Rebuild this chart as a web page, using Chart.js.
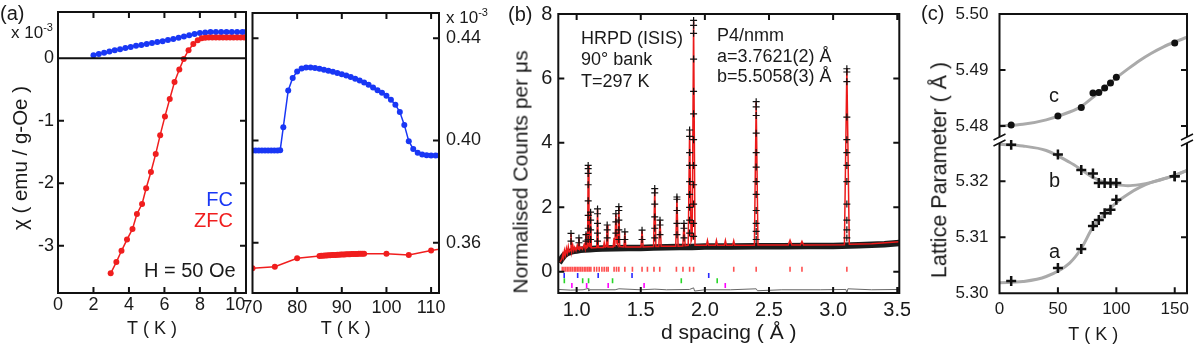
<!DOCTYPE html>
<html>
<head>
<meta charset="utf-8">
<script src="https://cdn.jsdelivr.net/npm/chart.js@4.4.1/dist/chart.umd.min.js"></script>
<style>
  body { margin: 0; background: #fff; }
  #page { position: relative; width: 1196px; height: 349px; overflow: hidden;
          font-family: 'Liberation Sans', Arial, sans-serif; color: #1a1a1a; }
  .box { position: absolute; }
  .txt { position: absolute; white-space: nowrap; line-height: 1; }
  .vt  { position: absolute; white-space: nowrap; line-height: 1;
         transform: translate(-50%, -50%) rotate(-90deg); }
  sup.e { font-size: 11px; position: relative; top: -7px; vertical-align: baseline; }
</style>
</head>
<body>
<div id="page">
  <div class="box" style="left:0;top:0"><canvas id="a1" width="250" height="349"></canvas></div>
  <div class="box" style="left:240px;top:0"><canvas id="a2" width="270" height="349"></canvas></div>
  <div class="box" style="left:500px;top:0"><canvas id="b" width="410" height="349"></canvas></div>
  <div class="box" style="left:910px;top:0"><canvas id="cTop" width="286" height="160"></canvas></div>
  <div class="box" style="left:910px;top:120px"><canvas id="cBot" width="286" height="229"></canvas></div>

  <!-- panel (a) -->
  <div class="txt" style="left:0;top:3px;font-size:20px">(a)</div>
  <div class="txt" style="left:11px;top:24px;font-size:17px">x 10<sup class="e">-3</sup></div>
  <div class="txt" style="left:446px;top:9px;font-size:17px">x 10<sup class="e">-3</sup></div>
  <div class="vt" style="left:20px;top:158px;font-size:20.5px">χ ( emu / g-Oe )</div>
  <div class="txt" style="right:963px;top:189px;font-size:20px;color:rgb(25,55,245)">FC</div>
  <div class="txt" style="right:963px;top:210px;font-size:20px;color:rgb(240,30,30)">ZFC</div>
  <div class="txt" style="left:144px;top:260px;font-size:20px">H = 50 Oe</div>

  <!-- panel (b) -->
  <div class="txt" style="left:508px;top:4px;font-size:20px">(b)</div>
  <div class="vt" style="left:520px;top:172px;font-size:21px">Normalised Counts per μs</div>
  <div class="txt" style="left:581px;top:29px;font-size:18px">HRPD (ISIS)</div>
  <div class="txt" style="left:581px;top:50px;font-size:18px">90° bank</div>
  <div class="txt" style="left:581px;top:71.5px;font-size:18px">T=297 K</div>
  <div class="txt" style="left:717px;top:25.5px;font-size:18px">P4/nmm</div>
  <div class="txt" style="left:717px;top:46.5px;font-size:18px">a=3.7621(2) Å</div>
  <div class="txt" style="left:717px;top:67px;font-size:18px">b=5.5058(3) Å</div>

  <!-- panel (c) -->
  <div class="txt" style="left:921px;top:3px;font-size:20px">(c)</div>
  <div class="vt" style="left:940px;top:170px;font-size:21.5px">Lattice Parameter ( Å )</div>
  <div class="txt" style="left:1049px;top:85px;font-size:20px">c</div>
  <div class="txt" style="left:1049px;top:170px;font-size:20px">b</div>
  <div class="txt" style="left:1049px;top:241px;font-size:20px">a</div>
</div>

<script>
// ---- (a) susceptibility, 0-10.6 K ----
const fcT1 = [2.0, 2.3, 2.6, 2.9, 3.2, 3.5, 3.8, 4.1, 4.4, 4.7, 5.0, 5.3, 5.6, 5.9, 6.2,
              6.5, 6.8, 7.1, 7.4, 7.7, 8.0, 8.3, 8.6, 8.9, 9.2, 9.5, 9.8, 10.1, 10.4, 10.6];
const fcChi1 = [0.05, 0.07, 0.09, 0.11, 0.13, 0.145, 0.165, 0.18, 0.20, 0.215, 0.23, 0.245, 0.26, 0.275, 0.295,
                0.31, 0.33, 0.35, 0.37, 0.39, 0.405, 0.415, 0.42, 0.42, 0.42, 0.42, 0.42, 0.42, 0.42, 0.42];
const zfcT1 = [2.97, 3.29, 3.58, 3.89, 4.20, 4.45, 4.74, 4.97, 5.24, 5.51, 5.76, 6.03, 6.30, 6.57, 6.84, 7.09,
               7.36, 7.63, 7.88, 8.1, 8.3, 8.5, 8.7, 8.9, 9.1, 9.3, 9.5, 9.7, 9.9, 10.1, 10.3, 10.5];
const zfcChi1 = [-3.44, -3.26, -3.08, -2.90, -2.73, -2.49, -2.33, -2.08, -1.82, -1.53, -1.23, -0.93, -0.65, -0.38, -0.18, -0.01,
                 0.13, 0.23, 0.29, 0.32, 0.33, 0.335, 0.335, 0.335, 0.335, 0.335, 0.335, 0.335, 0.335, 0.335, 0.335, 0.335];
const a1XTicks = [0, 2, 4, 6, 8, 10];
const a1YTicks = [-3, -2, -1, 0];

// ---- (a) susceptibility, 70-112 K ----
const fcT2 = [70, 70.7, 71.4, 72.1, 72.8, 73.5, 74.2, 74.9, 75.6, 76.2, 76.9, 78, 79, 80, 81, 82, 83, 84, 85, 86,
              87, 88, 89, 90, 91, 92, 93, 94, 95, 96, 97, 98, 99, 100, 101, 102, 103, 104, 105, 106,
              107, 108, 109, 110, 111, 111.8];
const fcChi2 = [0.3961, 0.3961, 0.3961, 0.3961, 0.3961, 0.3961, 0.3961, 0.3961, 0.3961, 0.3962, 0.4052, 0.4196, 0.4245, 0.4270, 0.4282, 0.4286, 0.4286, 0.4284, 0.4281, 0.4277,
                0.4273, 0.4269, 0.4264, 0.4259, 0.4254, 0.4248, 0.4242, 0.4235, 0.4227, 0.4218, 0.4207, 0.4197, 0.4187, 0.4175, 0.4159, 0.4140, 0.4111, 0.4061, 0.3997, 0.3967,
                0.3952, 0.3945, 0.3942, 0.3941, 0.3941, 0.3941];
const zfcT2 = [70, 75, 80, 85, 85.4, 85.8, 86.2, 86.6, 87.0, 87.4, 87.8, 88.2, 88.6, 89.0, 89.4, 89.8, 90.2, 90.6,
               91.0, 91.4, 91.8, 92.2, 92.6, 93.0, 93.4, 93.8, 94.2, 94.6, 95.0, 100, 105, 110, 115];
const zfcChi2 = [0.3500, 0.3506, 0.3539, 0.3548, 0.3549, 0.3549, 0.3550, 0.3550, 0.3551, 0.3551, 0.3552, 0.3552, 0.3552, 0.3553, 0.3553, 0.3554, 0.3554, 0.3554,
                 0.3555, 0.3555, 0.3555, 0.3556, 0.3556, 0.3556, 0.3556, 0.3557, 0.3557, 0.3557, 0.3557, 0.3557, 0.3552, 0.3569, 0.3585];
const a2XTicks = [70, 80, 90, 100, 110];
const a2YTicks = [0.36, 0.40, 0.44];

// ---- (b) HRPD pattern ----
const calcD = [0.870, 0.885, 0.893, 0.898, 0.905, 0.912, 0.920, 0.927, 0.935, 0.942,
               0.950, 0.956, 0.962, 0.970, 0.978, 0.985, 0.995, 1.005, 1.012, 1.018,
               1.024, 1.035, 1.045, 1.058, 1.066, 1.073, 1.079, 1.085, 1.090, 1.096,
               1.103, 1.109, 1.115, 1.157, 1.163, 1.169, 1.208, 1.215, 1.222, 1.232,
               1.238, 1.244, 1.285, 1.292, 1.298, 1.306, 1.314, 1.322, 1.329, 1.336,
               1.369, 1.376, 1.383, 1.502, 1.510, 1.518, 1.600, 1.609, 1.618, 1.641,
               1.650, 1.659, 1.773, 1.782, 1.791, 1.828, 1.837, 1.846, 1.870, 1.881,
               1.893, 1.901, 1.912, 1.923, 2.012, 2.020, 2.028, 2.082, 2.090, 2.098,
               2.152, 2.160, 2.168, 2.217, 2.225, 2.233, 2.386, 2.400, 2.414, 2.650,
               2.664, 2.678, 2.745, 2.757, 2.769, 3.088, 3.107, 3.126, 3.300, 3.516];
const calcY = [0.30, 0.40, 0.55, 0.45, 0.66, 0.52, 0.72, 0.58, 0.78, 0.62,
               0.66, 1.19, 0.64, 0.82, 0.66, 0.76, 0.66, 0.82, 0.70, 1.05,
               0.70, 0.76, 0.70, 0.84, 0.72, 1.20, 0.74, 0.76, 3.30, 0.80,
               0.78, 1.85, 0.74, 0.75, 1.95, 0.75, 0.75, 0.90, 0.76, 0.78,
               1.45, 0.77, 0.77, 1.05, 0.78, 1.80, 0.88, 0.82, 2.02, 0.78,
               0.77, 1.24, 0.77, 0.77, 1.29, 0.77, 0.78, 2.58, 0.78, 0.78,
               1.60, 0.79, 0.79, 2.32, 0.79, 0.80, 1.50, 0.81, 0.82, 4.40,
               0.95, 1.05, 7.80, 0.82, 0.82, 0.97, 0.82, 0.82, 0.97, 0.82,
               0.82, 0.97, 0.82, 0.82, 0.96, 0.82, 0.82, 5.28, 0.83, 0.83,
               0.98, 0.83, 0.83, 0.94, 0.83, 0.84, 6.32, 0.85, 0.87, 0.93];
// observed background band (dense crosses)
const bandD = [0.862, 0.875, 0.890, 0.905, 0.920, 0.940, 0.960, 0.980, 1.000, 1.030,
               1.060, 1.100, 1.150, 1.200, 1.300, 1.400, 1.500, 1.600, 1.700, 1.800,
               1.900, 2.000, 2.200, 2.400, 2.600, 2.800, 3.000, 3.200, 3.400, 3.516];
const bandY = [0.28, 0.36, 0.44, 0.52, 0.56, 0.60, 0.63, 0.65, 0.66, 0.68,
               0.69, 0.70, 0.71, 0.72, 0.73, 0.74, 0.74, 0.75, 0.76, 0.77,
               0.77, 0.78, 0.78, 0.79, 0.79, 0.80, 0.80, 0.82, 0.85, 0.89];
// observed points on the Bragg peaks
const peakD = [0.956, 1.018, 1.073, 1.090, 1.109, 1.163, 1.238, 1.306, 1.329, 1.376,
               1.510, 1.609, 1.650, 1.782, 1.837, 1.881, 1.912, 2.400, 3.107];
const peakObs = [
  [1.19, 0.95], [1.05, 0.9], [1.15, 0.95],
  [3.3, 3.2, 3.05, 2.7, 2.2, 1.75, 1.35, 1.0],
  [1.85, 1.6, 1.3, 1.0], [1.95, 1.8, 1.5, 1.2, 0.95], [1.45, 1.3, 1.05],
  [1.8, 1.55, 1.2], [2.02, 1.9, 1.6, 1.3, 1.0], [1.24, 1.0], [1.29, 1.0],
  [2.58, 2.45, 2.1, 1.7, 1.35, 1.05], [1.6, 1.45, 1.15], [2.32, 2.25, 1.9, 1.5, 1.15],
  [1.5, 1.35, 1.05], [4.4, 4.2, 3.7, 3.3, 2.8, 2.4, 2.0, 1.6, 1.2],
  [7.8, 7.65, 7.4, 6.6, 5.6, 4.9, 4.1, 3.3, 2.7, 2.1, 1.5, 1.1],
  [5.28, 5.12, 4.85, 4.3, 3.7, 3.25, 2.8, 2.4, 1.9, 1.5, 1.25, 1.0],
  [6.3, 6.2, 5.9, 4.8, 4.1, 3.7, 3.3, 2.8, 2.1, 1.6, 1.3, 1.05]
];
const diffD = [0.86, 0.95, 1.05, 1.09, 1.095, 1.10, 1.30, 1.33, 1.50, 1.61, 1.70, 1.88, 1.912,
               1.92, 2.00, 2.20, 2.40, 2.41, 2.60, 2.90, 3.10, 3.107, 3.115, 3.30, 3.516];
const diffY = [-0.55, -0.57, -0.56, -0.52, -0.60, -0.56, -0.56, -0.53, -0.56, -0.54, -0.56, -0.55, -0.50,
               -0.60, -0.56, -0.56, -0.53, -0.59, -0.56, -0.56, -0.55, -0.66, -0.53, -0.56, -0.55];
// reflection markers, one row per phase
const hklRed = [0.888, 0.901, 0.914, 0.927, 0.940, 0.953, 0.966, 0.981, 0.992, 1.005, 1.018, 1.031, 1.044,
                1.059, 1.072, 1.086, 1.098, 1.111, 1.137, 1.156, 1.176, 1.197, 1.215, 1.233, 1.246, 1.292,
                1.311, 1.329, 1.376, 1.435, 1.510, 1.552, 1.603, 1.648, 1.778, 1.829, 1.881, 1.912, 2.225,
                2.400, 2.664, 2.757, 3.107];
const hklBlue = [0.903, 1.008, 1.168, 1.432, 2.030];
const hklGreen = [0.904, 1.047, 1.093, 1.280, 1.816, 2.096];
const hklMag = [0.963, 1.078, 1.246, 1.526, 2.159];
const bXTicks = [1.0, 1.5, 2.0, 2.5, 3.0, 3.5];
const bYTicks = [0, 2, 4, 6, 8];

// ---- (c) lattice parameters ----
const latT = [10, 50, 70, 80, 85, 90, 95, 100, 150];
const latC = [5.4802, 5.4818, 5.4833, 5.4859, 5.4860, 5.4868, 5.4877, 5.4887, 5.4948];
const latB = [5.3265, 5.3248, 5.3220, 5.3214, 5.3197, 5.3197, 5.3197, 5.3197, 5.3209];
const latA = [5.3022, 5.3045, 5.3079, 5.3120, 5.3131, 5.3143, 5.3149, 5.3167, 5.3209];
const fitT = [0, 20, 40, 60, 70, 80, 90, 100, 110, 120, 130, 140, 150, 160];
const fitC = [5.4800, 5.4803, 5.4811, 5.4825, 5.4835, 5.4851, 5.4868, 5.4886, 5.4902, 5.4917, 5.4930, 5.4941, 5.4950, 5.4958];
const fitB = [5.3266, 5.3263, 5.3255, 5.3234, 5.3221, 5.3207, 5.3198, 5.3194, 5.3192, 5.3194, 5.3198, 5.3204, 5.3211, 5.3219];
const fitA = [5.3019, 5.3021, 5.3030, 5.3054, 5.3080, 5.3118, 5.3141, 5.3162, 5.3177, 5.3189, 5.3198, 5.3204, 5.3210, 5.3219];
const cXTicks = [0, 50, 100, 150];
const cTopTicks = [5.48, 5.49, 5.50];
const cBotTicks = [5.30, 5.31, 5.32];

const BLUE = 'rgb(25,55,245)', RED = 'rgb(240,30,30)', INK = '#111';

Chart.defaults.font.family = "'Liberation Sans', Arial, sans-serif";
Chart.defaults.color = '#1a1a1a';
Chart.defaults.animation = false;
Chart.defaults.plugins.legend.display = false;
Chart.defaults.plugins.tooltip.enabled = false;

const pts = (xs, ys) => xs.map((x, i) => ({x: x, y: ys[i]}));
const row = (xs, y) => xs.map(x => ({x: x, y: y}));

// box, inward ticks, zero line and axis break, drawn over the data
const framePlugin = {
  id: 'frame',
  afterDatasetsDraw(chart, args, o) {
    const {ctx, chartArea: a} = chart;
    const xs = chart.scales.x, ys = chart.scales.y;
    const L = 6;
    ctx.save();
    ctx.strokeStyle = INK;
    ctx.lineWidth = 2;
    ctx.beginPath();
    if (o.top) { ctx.moveTo(a.left - 1, a.top); ctx.lineTo(a.right + 1, a.top); }
    if (o.bottom) { ctx.moveTo(a.left - 1, a.bottom); ctx.lineTo(a.right + 1, a.bottom); }
    const t0 = a.top + (o.gapTop || 0), b0 = a.bottom - (o.gapBottom || 0);
    ctx.moveTo(a.left, t0); ctx.lineTo(a.left, b0);
    ctx.moveTo(a.right, t0); ctx.lineTo(a.right, b0);
    xs.ticks.forEach(t => {
      const px = xs.getPixelForValue(t.value);
      if (px < a.left + 1 || px > a.right - 1) return;
      if (o.bottom) { ctx.moveTo(px, a.bottom); ctx.lineTo(px, a.bottom - L); }
      if (o.topTicks) { ctx.moveTo(px, a.top); ctx.lineTo(px, a.top + L); }
    });
    ys.ticks.forEach(t => {
      const py = ys.getPixelForValue(t.value);
      if (py < a.top + 1 || py > a.bottom - 1) return;
      ctx.moveTo(a.left, py); ctx.lineTo(a.left + L, py);
      ctx.moveTo(a.right, py); ctx.lineTo(a.right - L, py);
    });
    if (o.zero) {
      const py = ys.getPixelForValue(0);
      ctx.moveTo(a.left, py); ctx.lineTo(a.right, py);
    }
    ctx.stroke();
    if (o.brk) {
      ctx.lineWidth = 1.5;
      ctx.beginPath();
      [a.left, a.right].forEach(bx => {
        [-3, 3].forEach(dy => {
          ctx.moveTo(bx - 6, a.top + dy + 3);
          ctx.lineTo(bx + 6, a.top + dy - 3);
        });
      });
      ctx.stroke();
    }
    ctx.restore();
  }
};

function axis(o) {
  return {
    type: 'linear',
    position: o.pos,
    display: o.display !== false,
    min: o.min,
    max: o.max,
    grid: {display: false, drawTicks: false},
    border: {display: false},
    ticks: {padding: o.pad, font: {size: o.size}, callback: v => Number(v).toFixed(o.dec)},
    afterBuildTicks: s => { s.ticks = o.ticks.map(v => ({value: v})); },
    afterFit: s => {
      if (o.horiz) s.height = o.fit; else s.width = o.fit;
      s.paddingLeft = s.paddingRight = s.paddingTop = s.paddingBottom = 0;
    },
    title: o.title
      ? {display: true, text: o.title, font: {size: o.titleSize}, padding: {top: 0, bottom: o.titlePad}}
      : {display: false}
  };
}

function makeChart(id, datasets, scales, frame, padding) {
  return new Chart(document.getElementById(id), {
    type: 'scatter',
    data: {datasets: datasets},
    options: {
      responsive: false,
      devicePixelRatio: 1,
      layout: {padding: padding},
      scales: scales,
      plugins: {frame: frame}
    },
    plugins: [framePlugin]
  });
}

function dots(data, color) {
  return {data: data, showLine: true, borderColor: color, borderWidth: 1.5,
          pointRadius: 3, pointBackgroundColor: color, pointBorderWidth: 0};
}

// (a) left
makeChart('a1',
  [dots(pts(zfcT1, zfcChi1), RED), dots(pts(fcT1, fcChi1), BLUE)],
  {
    x: axis({min: 0, max: 10.6, ticks: a1XTicks, dec: 0, size: 18, pad: 1, horiz: true, fit: 56,
             title: 'T ( K )', titleSize: 18, titlePad: 9, pos: 'bottom'}),
    y: axis({min: -3.755, max: 0.741, ticks: a1YTicks, dec: 0, size: 18, pad: 4, fit: 58, pos: 'left'})
  },
  {top: true, bottom: true, topTicks: true, zero: true},
  {left: 0, top: 12, right: 4, bottom: 0});

// (a) right
makeChart('a2',
  [dots(pts(zfcT2, zfcChi2), RED), dots(pts(fcT2, fcChi2), BLUE)],
  {
    x: axis({min: 70, max: 111.77, ticks: a2XTicks, dec: 0, size: 18, pad: 4, horiz: true, fit: 56,
             title: 'T ( K )', titleSize: 18, titlePad: 9, pos: 'bottom'}),
    y: axis({min: 0.3403, max: 0.4499, ticks: a2YTicks, dec: 2, size: 18, pad: 7, fit: 71, pos: 'right'})
  },
  {top: true, bottom: true, topTicks: true},
  {left: 12.5, top: 13, right: 0, bottom: 0});

// (b)
const obsPts = [];
peakD.forEach((d, i) => peakObs[i].forEach(y => obsPts.push({x: d, y: y})));
const hklSet = (xs, y, color) => ({
  data: row(xs, y), showLine: false, pointStyle: 'line', pointRotation: 90, pointRadius: 2.5,
  pointBorderWidth: 1.6, pointBorderColor: color, order: 4
});
makeChart('b',
  [
    {data: obsPts, showLine: false, pointStyle: 'cross', pointRadius: 3.5, pointBorderWidth: 1.2,
     pointBorderColor: INK, order: 1},
    {data: pts(calcD, calcY), showLine: true, borderColor: 'rgb(235,25,25)', borderWidth: 1.5,
     pointRadius: 0, order: 2},
    {data: pts(bandD, bandY), showLine: true, borderColor: '#1c1c1c', borderWidth: 6.5, pointRadius: 0, order: 3},
    hklSet(hklRed, 0.08, 'rgb(255,80,80)'),
    hklSet(hklBlue, -0.12, 'rgb(40,40,255)'),
    hklSet(hklGreen, -0.28, 'rgb(40,215,40)'),
    hklSet(hklMag, -0.43, 'rgb(255,0,255)'),
    {data: pts(diffD, diffY), showLine: true, borderColor: '#666', borderWidth: 1, pointRadius: 0, order: 5}
  ],
  {
    x: axis({min: 0.857, max: 3.516, ticks: bXTicks, dec: 1, size: 20, pad: 5, horiz: true, fit: 56,
             title: 'd spacing ( Å )', titleSize: 21, titlePad: 3, pos: 'bottom'}),
    y: axis({min: -0.66, max: 8, ticks: bYTicks, dec: 0, size: 20, pad: 6, fit: 58.3, pos: 'left'})
  },
  {top: true, bottom: true, topTicks: true},
  {left: 0, top: 14, right: 10.7, bottom: 0});

// (c) upper: c axis
const curve = data => ({data: data, showLine: true, borderColor: '#aaa', borderWidth: 3,
                        pointRadius: 0, cubicInterpolationMode: 'monotone', order: 3});
makeChart('cTop',
  [
    curve(pts(fitT, fitC)),
    {data: pts(latT, latC), showLine: false, pointStyle: 'circle', pointRadius: 3.5,
     pointBackgroundColor: INK, pointBorderWidth: 0, order: 1}
  ],
  {
    x: axis({min: 0, max: 160.5, ticks: cXTicks, dec: 0, size: 17, pad: 5, horiz: true, fit: 0,
             display: false, pos: 'bottom'}),
    y: axis({min: 5.4775, max: 5.50, ticks: cTopTicks, dec: 2, size: 17, pad: 11, fit: 89.5, pos: 'left'})
  },
  {top: true, bottom: false, gapBottom: 3},
  {left: 0, top: 14, right: 9, bottom: 20});

// (c) lower: a and b axes
const crosses = data => ({data: data, showLine: false, pointStyle: 'cross', pointRadius: 5,
                          pointBorderWidth: 2.5, pointBorderColor: INK, order: 1});
makeChart('cBot',
  [curve(pts(fitT, fitB)), curve(pts(fitT, fitA)), crosses(pts(latT, latB)), crosses(pts(latT, latA))],
  {
    x: axis({min: 0, max: 160.5, ticks: cXTicks, dec: 0, size: 17, pad: 6, horiz: true, fit: 55.7,
             title: 'T ( K )', titleSize: 18, titlePad: 3, pos: 'bottom'}),
    y: axis({min: 5.30, max: 5.32737, ticks: cBotTicks, dec: 2, size: 17, pad: 11, fit: 89.5, pos: 'left'})
  },
  {top: false, bottom: true, gapTop: 3, brk: true},
  {left: 0, top: 20, right: 9, bottom: 0});
</script>
</body>
</html>
